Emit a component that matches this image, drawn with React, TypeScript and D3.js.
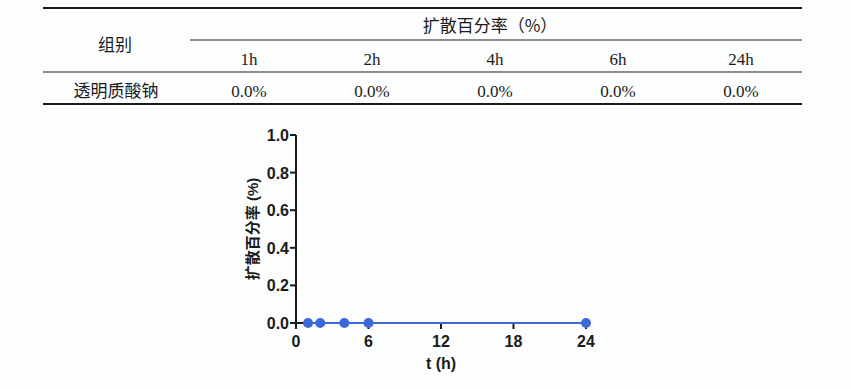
import * as d3 from 'd3'

const hours = ['1h', '2h', '4h', '6h', '24h']
const tableValues = ['0.0%', '0.0%', '0.0%', '0.0%', '0.0%']
const groupName = '透明质酸钠'
const timePoints = [1, 2, 4, 6, 24]
const diffusion = [0, 0, 0, 0, 0]
const xTicks = [0, 6, 12, 18, 24]
const yTicks = [0, 0.2, 0.4, 0.6, 0.8, 1.0]

const W = 851
const H = 389
const SERIF = '"Liberation Serif", "Noto Sans CJK SC", serif'
const CJK = '"Noto Sans CJK SC", sans-serif'
const SANS = '"Liberation Sans", Arial, "Noto Sans CJK SC", sans-serif'
const BLUE = '#3d68d8'
const INK = '#1b1b1b'

export default function App() {
  const colX = d3.scalePoint<string>().domain(hours).range([249, 741])

  const x = d3.scaleLinear().domain([0, 24]).range([296, 586])
  const y = d3.scaleLinear().domain([0, 1]).range([323, 135])

  const line = d3
    .line<number>()
    .x((_, i) => x(timePoints[i]))
    .y((d) => y(d))

  return (
    <div style={{ position: 'absolute', left: 0, top: 0 }}>
      <svg width={W} height={H} style={{ display: 'block', background: '#fcfdfd' }}>
        {/* table rules */}
        <line x1={43} x2={802} y1={8} y2={8} stroke={INK} strokeWidth={2} />
        <line x1={190} x2={802} y1={40} y2={40} stroke={INK} strokeWidth={1} />
        <line x1={43} x2={802} y1={72} y2={72} stroke={INK} strokeWidth={1} />
        <line x1={43} x2={802} y1={104} y2={104} stroke={INK} strokeWidth={2} />

        <text x={115} y={51} textAnchor="middle" fontFamily={CJK} fontSize={17} fill={INK}>
          组别
        </text>
        <text x={490} y={32} textAnchor="middle" fontFamily={CJK} fontSize={17} fill={INK}>
          扩散百分率（%）
        </text>
        {hours.map((h) => (
          <text
            key={h}
            x={colX(h)}
            y={65}
            textAnchor="middle"
            fontFamily={SERIF}
            fontSize={17}
            fill={INK}
          >
            {h}
          </text>
        ))}
        <text x={116} y={97} textAnchor="middle" fontFamily={CJK} fontSize={17} fill={INK}>
          {groupName}
        </text>
        {tableValues.map((v, i) => (
          <text
            key={i}
            x={colX(hours[i])}
            y={97}
            textAnchor="middle"
            fontFamily={SERIF}
            fontSize={17}
            fill={INK}
          >
            {v}
          </text>
        ))}

        {/* chart axes */}
        <g fontFamily={SANS} fontWeight="bold" fill={INK}>
          <line x1={x(0)} x2={x(0)} y1={y(1)} y2={y(0)} stroke={INK} strokeWidth={2} />
          <line x1={x(0)} x2={x(24)} y1={y(0)} y2={y(0)} stroke={INK} strokeWidth={2} />
          {yTicks.map((t) => (
            <g key={t}>
              <line x1={x(0) - 6} x2={x(0)} y1={y(t)} y2={y(t)} stroke={INK} strokeWidth={2} />
              <text x={x(0) - 7} y={y(t) + 6} textAnchor="end" fontSize={16}>
                {d3.format('.1f')(t)}
              </text>
            </g>
          ))}
          {xTicks.map((t) => (
            <g key={t}>
              <line x1={x(t)} x2={x(t)} y1={y(0)} y2={y(0) + 6} stroke={INK} strokeWidth={2} />
              <text x={x(t)} y={y(0) + 24} textAnchor="middle" fontSize={16}>
                {t}
              </text>
            </g>
          ))}
          <text x={(x(0) + x(24)) / 2} y={369} textAnchor="middle" fontSize={16}>
            t (h)
          </text>
          <text
            transform={`translate(258,${(y(0) + y(1)) / 2}) rotate(-90)`}
            textAnchor="middle"
            fontSize={15}
          >
            扩散百分率 (%)
          </text>
        </g>

        {/* data */}
        <path d={line(diffusion) ?? ''} fill="none" stroke={BLUE} strokeWidth={2} />
        {diffusion.map((d, i) => (
          <circle key={i} cx={x(timePoints[i])} cy={y(d)} r={5} fill={BLUE} />
        ))}
      </svg>
    </div>
  )
}
